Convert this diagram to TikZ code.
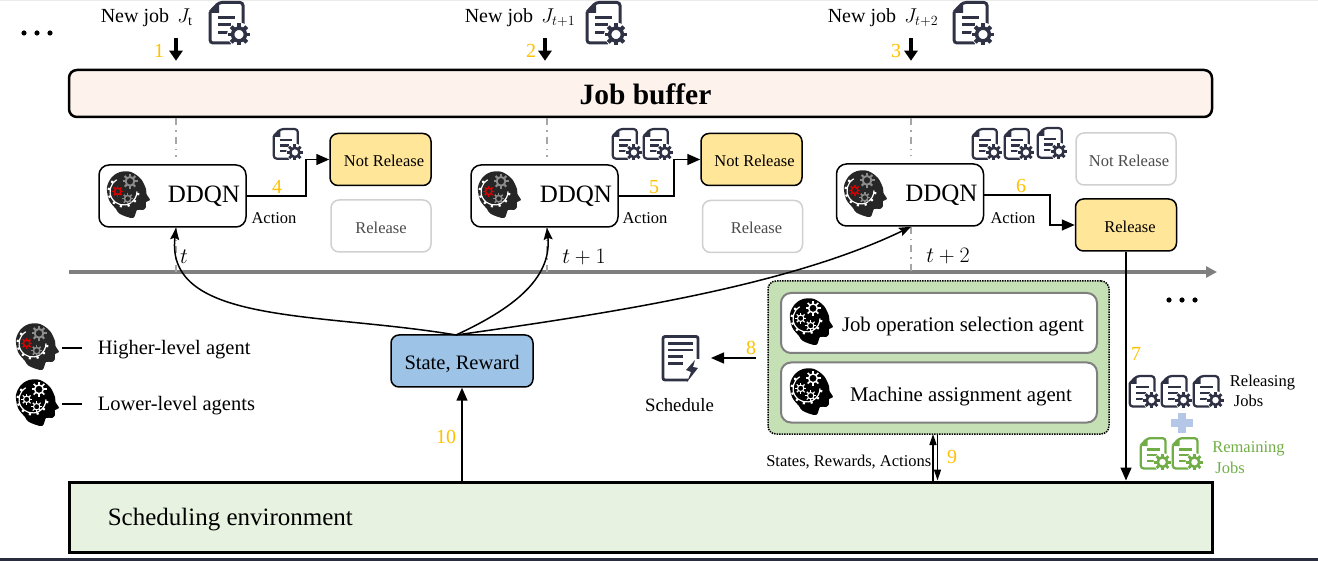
\documentclass[tikz,border=0pt]{standalone}
\usepackage{fix-cm}
\usepackage{fontspec}
\setmainfont{Liberation Serif}
\usetikzlibrary{arrows.meta}
\definecolor{docdark}{HTML}{2F3245}
\definecolor{docgreen}{HTML}{70AD47}
\definecolor{gold}{HTML}{FFC000}
\definecolor{bufferfill}{HTML}{FDF3EC}
\definecolor{choicefill}{HTML}{FFE699}
\definecolor{choiceoff}{HTML}{D0D0D0}
\definecolor{statefill}{HTML}{9DC3E6}
\definecolor{groupfill}{HTML}{C5E0B4}
\definecolor{envfill}{HTML}{E7F2E0}
\definecolor{plusblue}{HTML}{B4C7E7}
\definecolor{axisgray}{HTML}{7F7F7F}
\definecolor{markgray}{HTML}{A6A6A6}
%% one gear: centre, radius, colour, hole colour, scale of the line widths
\newcommand{\drawgear}[5]{%
\begin{scope}[shift={(#1)}]
\foreach \ang in {0,45,...,315} \draw[#3, line width=#5*#2*0.36pt] (\ang:0.6*#2) -- (\ang:#2);
\draw[#3, fill=#4, line width=#5*#2*0.32pt] (0,0) circle (0.58*#2);
\end{scope}}
\tikzset{
every picture/.style={x=1pt, y=-1pt, line width=1.5pt},
%%%%%%%%%%  Text styles
sized/.style={font=\fontsize{#1}{#1}\selectfont},
stepnum/.style={sized=20, text=gold, inner sep=0pt, text height=15.5pt, text depth=0pt},
small_text/.style={sized=16.5, inner sep=0pt},
legend_text/.style={sized=20.5, inner sep=0pt, anchor=west, text height=13.6pt, text depth=0pt},
newjob_text/.style={sized=20, inner sep=0pt, anchor=west, text height=13.4pt, text depth=0pt},
%%%%%%%%%%  Node styles
buffer_box/.style={draw, line width=2.5pt, rounded corners=8pt, fill=bufferfill,
                   minimum width=1143pt, minimum height=47pt, text height=23pt, text depth=0pt,
                   font=\fontsize{29.5}{29.5}\selectfont\bfseries},
ddqn_box/.style={draw, rounded corners=10pt, fill=white, sized=25,
                 minimum height=62pt, text width=135pt, inner xsep=6pt, inner ysep=0pt,
                 align=right},
choice_on/.style={draw, rounded corners=8pt, fill=choicefill, sized=16.5,
                  minimum width=101pt, minimum height=52pt, text height=14.3pt, text depth=0pt},
choice_off/.style={draw=choiceoff, rounded corners=8pt, fill=white, sized=16.5,
                   text=black!70, minimum width=100pt, minimum height=52pt,
                   text height=14.3pt, text depth=0pt},
state_box/.style={draw, rounded corners=8pt, fill=statefill, sized=20.5,
                  minimum width=142pt, minimum height=52pt, text height=17.6pt, text depth=0pt},
group_box/.style={draw, densely dotted, rounded corners=8pt, fill=groupfill,
                  minimum width=341pt, minimum height=153pt},
agent_box/.style={draw=axisgray, line width=2pt, rounded corners=10pt, fill=white,
                  sized=20.8, minimum width=316pt, minimum height=60pt, text height=17.6pt, text depth=0pt},
env_box/.style={draw, line width=3pt, fill=envfill, minimum width=1143pt, minimum height=70pt},
%%%% different line styles:
newjob/.style={line width=3.2pt, -{Stealth[length=10pt,width=13pt,inset=0pt]}, shorten >=8pt},
flow/.style={-{Stealth[length=13pt,width=11pt,inset=0pt]}},
feed/.style={-{Stealth[length=12pt,width=9pt,inset=2pt]}},
thin_flow/.style={-{Stealth[length=11pt,width=7pt,inset=0pt]}},
timemark/.style={draw=markgray, dash pattern=on 7pt off 5pt on 1.5pt off 5pt},
axis/.style={axisgray, line width=4pt, -{Stealth[length=11pt,width=11pt,inset=0pt]}},
%%%%%%% Icons
pics/jobicon/.style 2 args={code={
  \begin{scope}[scale=#2]
  \draw[#1, line width=#2*3pt, rounded corners=3pt] (1,11) -- (10,1.5) -- (34,1.5) -- (34,25);
  \draw[#1, line width=#2*3pt, rounded corners=3pt] (22,42) -- (1,42) -- (1,11);
  \fill[#1] (1,12) -- (10,1.5) -- (10,12) -- cycle;
  \draw[#1, line width=#2*3pt] (9,16.5) -- (26,16.5) (9,24) -- (22,24) (9,32) -- (19,32);
  \fill[white] (30,33.5) circle (12);
  \drawgear{30,33.5}{11}{#1}{white}{#2}
  \end{scope}
}},
pics/headicon/.style n args={4}{code={
  \fill[#1] plot[smooth cycle, tension=0.55] coordinates {(8,37) (1,28) (-1,15) (4,5) (12,0) (23,0) (33,7)
     (38,17) (38.5,22) (42,28) (38,30) (38,35) (35,38) (29,38) (25,46) (12,42)};
  \draw[white, line width=1.2pt] (15.5,19.5) ++(240:13.5) arc (240:0:13.5);
  \foreach \ang in {10,40,...,220} \draw[white, line width=2.2pt] (15.5,19.5) ++(\ang:13.5) -- ++(\ang:2.5);
  \drawgear{22,9.3}{7.5}{#2}{#1}{#4}
  \drawgear{19.7,26.7}{5.5}{#2}{#1}{#4}
  \drawgear{9.7,19.3}{5.5}{#3}{#1}{#4}
}},
pics/schedicon/.style={code={
  \draw[docdark, line width=2.8pt, rounded corners=2pt] (27,45) -- (2,45) -- (2,1.5) -- (37,1.5) -- (37,24);
  \draw[docdark, line width=2.8pt] (7,8.5) -- (32,8.5) (7,15) -- (32,15) (7,21.7) -- (22,21.7) (7,28.3) -- (22,28.3);
  \fill[docdark] (34,25) -- (25,35) -- (30,37) -- (26,47) -- (37,33) -- (32,32) -- cycle;
}},
pics/moredots/.style={code={
  \foreach \n in {0,13,26} \fill (\n,0) circle (2.6);
}}
}

\begin{document}
\begin{tikzpicture}
\useasboundingbox (0,0) rectangle (1318,561);
\fill[black!8] (0,0) rectangle (1318,1.5);
\fill[docdark!90!black] (0,558) rectangle (1318,561);
%% the two long boxes and the time axis
\node[buffer_box] (buffer) at (640.5,93.5) {\hspace*{10pt}Job buffer};
\node[env_box] (env) at (640.5,517) {};
\node[sized=25, inner sep=0pt, anchor=west] (env_text) at (107,520) {Scheduling environment};
\coordinate (time_start) at (69,272);
\coordinate (time_end) at (1217,272);
\draw[axis] (time_start) -- (time_end);
\pic at (24,33) {moredots};
\pic at (1169,300) {moredots};
%%%%%%%%%%%%%%%%%%%%%%%%%%%%%%%%%%%%%%%%%%%%%%%%%%%%
\node[newjob_text] (job_a) at (100,16) {New job \,\(J_{\mathrm{t}}\)};
\pic at (209,1) {jobicon={docdark}{1}};
\coordinate (mark_a) at (176,38);
\draw[newjob] (mark_a) -- (mark_a |- buffer.north);
\node[stepnum] (num_a) at (159,50) {1};
\node[ddqn_box] (ddqn_a) at (172.5,196) {DDQN};
\pic at (108,172) {headicon={black!85}{black!45}{red!85!black}{0.8}};
\node[choice_on] (notrel_a) at (380.5,159.5) {\hspace*{7pt}Not Release};
\node[choice_off] (rel_a) at (381,226) {Release};
\coordinate (bend_a) at (306,196);
\draw[flow] (ddqn_a.east) -- (bend_a) |- (notrel_a.west);
\pic at (273,128) {jobicon={docdark}{0.73}};
\node[stepnum] (num_d) at (277,186) {4};
\node[small_text] (act_a) at (274,218) {Action};
\draw[timemark, shorten >=7pt] (mark_a |- buffer.south) -- (mark_a |- ddqn_a.north);
\draw[timemark] (mark_a |- ddqn_a.south) -- (mark_a |- time_start);
\node[sized=22, inner sep=0pt] (time_a) at (184,257) {\(t\)};
%%%%%%%%%%%%%%%%%%%%%%%%%%%%%%%%%%%%%%%%%%%%%%%%%%%%
\node[newjob_text] (job_b) at (464,16) {New job \,\(J_{t+1}\)};
\pic at (586,1) {jobicon={docdark}{1}};
\coordinate (mark_b) at (545,38);
\draw[newjob] (mark_b) -- (mark_b |- buffer.north);
\node[stepnum] (num_b) at (531,50) {2};
\node[ddqn_box] (ddqn_b) at (544.5,196) {DDQN};
\pic at (479,172) {headicon={black!85}{black!45}{red!85!black}{0.8}};
\node[choice_on] (notrel_b) at (751.5,159.5) {\hspace*{6pt}Not Release};
\node[choice_off] (rel_b) at (752.5,226.5) {\hspace*{8pt}Release};
\coordinate (bend_b) at (674,196);
\draw[flow] (ddqn_b.east) -- (bend_b) |- (notrel_b.west);
\pic at (612,128) {jobicon={docdark}{0.73}};
\pic at (643,128) {jobicon={docdark}{0.73}};
\node[stepnum] (num_e) at (654,186) {5};
\node[small_text] (act_b) at (645,218) {Action};
\coordinate (mark_bb) at (547,38);
\draw[timemark, shorten >=7pt] (mark_bb |- buffer.south) -- (mark_bb |- ddqn_b.north);
\draw[timemark] (mark_bb |- ddqn_b.south) -- (mark_bb |- time_start);
\node[sized=22, inner sep=0pt] (time_b) at (584,257) {\(t+1\)};
%%%%%%%%%%%%%%%%%%%%%%%%%%%%%%%%%%%%%%%%%%%%%%%%%%%%
\node[newjob_text] (job_c) at (827,16) {New job \,\(J_{t+2}\)};
\pic at (953,1) {jobicon={docdark}{1}};
\coordinate (mark_c) at (911,38);
\draw[newjob] (mark_c) -- (mark_c |- buffer.north);
\node[stepnum] (num_c) at (896,50) {3};
\node[ddqn_box] (ddqn_c) at (910,195) {DDQN};
\pic at (845,171) {headicon={black!85}{black!45}{red!85!black}{0.8}};
\node[choice_off] (notrel_c) at (1126,159) {\hspace*{6pt}Not Release};
\node[choice_on] (rel_c) at (1126,225) {\hspace*{8pt}Release};
\coordinate (bend_c) at (1050,195);
\draw[flow] (ddqn_c.east) -- (bend_c) |- (rel_c.west);
\pic at (972,128) {jobicon={docdark}{0.73}};
\pic at (1004,128) {jobicon={docdark}{0.73}};
\pic at (1037,127) {jobicon={docdark}{0.73}};
\node[stepnum] (num_f) at (1021,185) {6};
\node[small_text] (act_c) at (1013,218) {Action};
\draw[timemark, shorten >=7pt] (mark_c |- buffer.south) -- (mark_c |- ddqn_c.north);
\draw[timemark] (mark_c |- ddqn_c.south) -- (mark_c |- time_start);
\node[sized=22, inner sep=0pt] (time_c) at (948,256) {\(t+2\)};
%%%%%%%%%%%%%%%%%%%%%%%%%%%%%%%%%%%%%%%%%%%%%%%%%%%%
%% state box with the three curves going up
\node[state_box] (state) at (462,361) {State, Reward};
\coordinate (state_top) at (456,335);
\draw[feed] (state_top) .. controls (320,312) and (165,325) .. (mark_a |- ddqn_a.south);
\draw[feed] (state_top) .. controls (510,310) and (552,280) .. (mark_bb |- ddqn_b.south);
\draw[feed] (state_top) .. controls (620,312) and (790,285) .. (mark_c |- ddqn_c.south);
\draw[flow] (state.south |- env.north) -- (state.south);
\node[stepnum] (num_j) at (446,436) {10};
%% the two lower level agents
\node[group_box] (agents) at (938.5,357.5) {};
\node[agent_box] (agent_op) at (939,323) {\hspace*{48pt}Job operation selection agent};
\node[agent_box] (agent_ma) at (939,392.5) {\hspace*{44pt}Machine assignment agent};
\pic at (791,299) {headicon={black}{white}{white}{0.6}};
\pic at (791,369) {headicon={black}{white}{white}{0.6}};
%% schedule on the left of them
\pic at (661,335) {schedicon};
\node[sized=18.8, inner sep=0pt] (sched_text) at (679.5,405) {Schedule};
\coordinate (sched_in) at (711,358);
\draw[flow, shorten <=11pt] (sched_in -| agents.west) -- (sched_in);
\node[stepnum] (num_h) at (751,347) {8};
%% arrows down to the environment
\coordinate (link_up) at (933,434);
\coordinate (link_down) at (937.5,434);
\draw[thin_flow] (link_up |- env.north) -- (link_up);
\draw[thin_flow] (link_down) -- (link_down |- env.north);
\node[small_text, anchor=east] (link_text) at (932,462) {States, Rewards, Actions};
\node[stepnum] (num_i) at (952,456) {9};
\draw[flow] (rel_c.south) -- (rel_c.south |- env.north);
\node[stepnum] (num_g) at (1136,353) {7};
%% releasing and remaining jobs
\pic at (1129,375) {jobicon={docdark}{0.75}};
\pic at (1161,375) {jobicon={docdark}{0.75}};
\pic at (1193,375) {jobicon={docdark}{0.75}};
\node[small_text] (rel_text) at (1262.5,383) {Releasing};
\node[small_text] (rel_jobs) at (1248.5,401) {Jobs};
\draw[plusblue, line width=8pt] (1182,413) -- (1182,433) (1171,423) -- (1193,423);
\pic at (1140,437) {jobicon={docgreen}{0.75}};
\pic at (1172,437) {jobicon={docgreen}{0.75}};
\node[small_text, text=docgreen] (rem_text) at (1248.5,449) {Remaining};
\node[small_text, text=docgreen] (rem_jobs) at (1230,468) {Jobs};
%% legend
\pic at (17,324) {headicon={black!85}{black!45}{red!85!black}{0.8}};
\node[legend_text] (legend_hi) at (97,348) {Higher-level agent};
\draw ([xshift=-15pt]legend_hi.west) -- ([xshift=-35pt]legend_hi.west);
\pic at (17,380) {headicon={black}{white}{white}{0.6}};
\node[legend_text] (legend_lo) at (97,404) {Lower-level agents};
\draw ([xshift=-15pt]legend_lo.west) -- ([xshift=-35pt]legend_lo.west);
\end{tikzpicture}
\end{document}
